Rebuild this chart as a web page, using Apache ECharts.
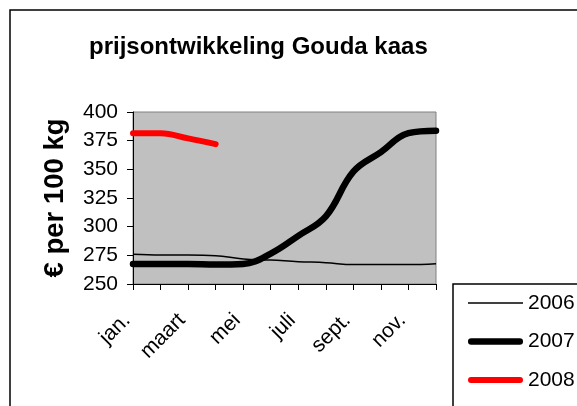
<!DOCTYPE html>
<html>
<head>
<meta charset="utf-8">
<script src="https://cdn.jsdelivr.net/npm/echarts@6/dist/echarts.min.js"></script>
<style>
  html, body { margin: 0; padding: 0; background: #fff; }
  #chart { width: 577px; height: 406px; }
</style>
</head>
<body>
<div id="chart"></div>
<script>
// maanden en prijzen (euro per 100 kg)
const months = ['jan.', 'feb.', 'maart', 'apr.', 'mei', 'juni', 'juli', 'aug.', 'sept.', 'okt.', 'nov.', 'dec.'];
const prices2006 = [276, 275.3, 275.3, 274.7, 271.8, 270.9, 269.5, 268.6, 266.9, 266.9, 266.9, 267.7];
const prices2007 = [267.5, 267.5, 267.5, 267, 267.5, 276.5, 292, 309, 348, 365, 381.5, 383.7];
const prices2008 = [381.5, 381.5, 377, 372, null, null, null, null, null, null, null, null];
const yTicks = [250, 275, 300, 325, 350, 375, 400];

const font = 'Liberation Sans, Arial, sans-serif';

// legenda-iconen: lijnstukjes met de dikte van de serie
const thinIcon = 'path://M0,0H55V1.5H0Z';
const thickIcon = 'path://M3.25,0H51.75A3.25,3.25,0,0,1,51.75,6.5H3.25A3.25,3.25,0,0,1,3.25,0Z';
const redIcon = 'path://M3,0H52A3,3,0,0,1,52,6H3A3,3,0,0,1,3,0Z';

const chart = echarts.init(document.getElementById('chart'));

const option = {
  animation: false,
  title: {
    text: 'prijsontwikkeling Gouda kaas',
    left: 84,
    top: 30,
    textStyle: { fontFamily: font, fontSize: 24, fontWeight: 'bold', color: '#000' }
  },
  graphic: [
    {
      type: 'rect',
      shape: { x: 10, y: 10, width: 700, height: 500 },
      style: { fill: null, stroke: '#000', lineWidth: 1.5 },
      silent: true
    },
    {
      type: 'rect',
      shape: { x: 453, y: 284, width: 200, height: 200 },
      style: { fill: '#fff', stroke: '#000', lineWidth: 1.5 },
      silent: true
    }
  ],
  legend: {
    orient: 'vertical',
    left: 468,
    top: 292,
    padding: 0,
    itemWidth: 55,
    itemHeight: 14,
    itemGap: 16.5,
    symbolKeepAspect: true,
    textStyle: { fontFamily: font, fontSize: 21, lineHeight: 22, color: '#000' },
    data: [
      { name: '2006', icon: thinIcon },
      { name: '2007', icon: thickIcon },
      { name: '2008', icon: redIcon }
    ]
  },
  grid: {
    left: 133,
    right: 141,
    top: 112,
    bottom: 122,
    show: true,
    backgroundColor: '#c0c0c0',
    borderColor: '#808080',
    borderWidth: 1
  },
  xAxis: {
    type: 'category',
    data: months,
    boundaryGap: false,
    axisLine: { lineStyle: { color: '#000', width: 1 } },
    axisTick: { show: true, interval: 0, length: 6, lineStyle: { color: '#000' } },
    axisLabel: {
      interval: 1,
      rotate: 45,
      margin: 27,
      padding: [0, 8.5, 0, 0],
      fontFamily: font,
      fontSize: 21,
      color: '#000'
    },
    splitLine: { show: false }
  },
  yAxis: {
    type: 'value',
    min: yTicks[0],
    max: yTicks[yTicks.length - 1],
    interval: 25,
    name: '€ per 100 kg',
    nameLocation: 'middle',
    nameRotate: 90,
    nameGap: 64,
    nameTextStyle: { fontFamily: font, fontSize: 27.5, fontWeight: 'bold', color: '#000' },
    axisLine: { show: true, lineStyle: { color: '#000', width: 1 } },
    axisTick: { show: true, length: 6, lineStyle: { color: '#000' } },
    axisLabel: { margin: 15, fontFamily: font, fontSize: 21, color: '#000' },
    splitLine: { show: false }
  },
  series: [
    {
      name: '2006',
      type: 'line',
      data: prices2006,
      smooth: 0.4,
      symbol: 'none',
      lineStyle: { color: '#000', width: 1.5 },
      itemStyle: { color: '#000' }
    },
    {
      name: '2007',
      type: 'line',
      data: prices2007,
      smooth: 0.4,
      symbol: 'none',
      lineStyle: { color: '#000', width: 6.5, cap: 'round', join: 'round' },
      itemStyle: { color: '#000' }
    },
    {
      name: '2008',
      type: 'line',
      data: prices2008,
      smooth: 0.4,
      symbol: 'none',
      lineStyle: { color: '#ff0000', width: 6, cap: 'round', join: 'round' },
      itemStyle: { color: '#ff0000' }
    }
  ]
};

chart.setOption(option);
</script>
</body>
</html>
